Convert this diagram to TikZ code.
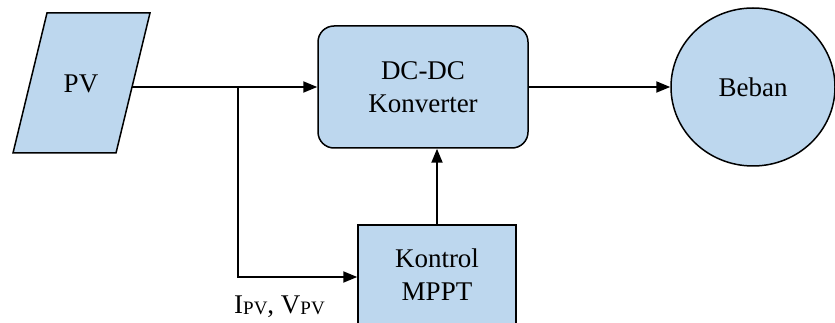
\documentclass[tikz,border=0pt]{standalone}
\usepackage{fontspec}
\setmainfont{Liberation Serif}
\usetikzlibrary{arrows.meta,shapes.geometric}
\definecolor{boxblue}{RGB}{189,215,238}
\tikzset{
  block/.style={draw=black, line width=1.5pt, fill=boxblue, align=center,
    font=\fontsize{27}{33}\selectfont},
  wire/.style={line width=2pt, draw=black},
  flow/.style={wire, -{Triangle[length=14pt,width=11pt]}},
  txt/.style={font=\fontsize{27}{33}\selectfont, inner sep=0pt}
}
\newcommand{\lowsub}[1]{\raisebox{-1.5pt}{\fontsize{19}{21}\selectfont #1}}
\begin{document}
\begin{tikzpicture}[x=1pt,y=-1pt]
  \useasboundingbox (0,0) rectangle (835,323);
  \clip (0,0) rectangle (835,323);

  % PV source drawn as a parallelogram
  \filldraw[fill=boxblue, draw=black, line width=1.5pt]
    (47,13) -- (150,13) -- (116,153) -- (13,153) -- cycle;
  \node[txt] (pv) at (81,84) {PV};
  \coordinate (pvout) at (132,87);
  \coordinate (tap) at (238,87);

  % converter, load and controller
  \node[block, rounded corners=16pt, minimum width=210pt, minimum height=122pt]
    (dcdc) at (423,87) {DC-DC\\Konverter};
  \node[block, ellipse, minimum width=164pt, minimum height=158pt, inner sep=0pt]
    (beban) at (753,87) {Beban};
  \node[block, minimum width=158pt, minimum height=100pt]
    (kontrol) at (437,275) {Kontrol\\MPPT};

  % connectors
  \draw[flow] (pvout) -- (dcdc.west);
  \draw[flow] (dcdc.east) -- (beban.west);
  \draw[flow] (tap) |- ([yshift=-2pt]kontrol.west);
  \draw[flow] (kontrol.north) -- (kontrol.north |- dcdc.south);

  % measured quantities
  \node[txt, anchor=base west] (meas) at (234,313)
    {I\lowsub{PV}, V\lowsub{PV}};
\end{tikzpicture}
\end{document}
